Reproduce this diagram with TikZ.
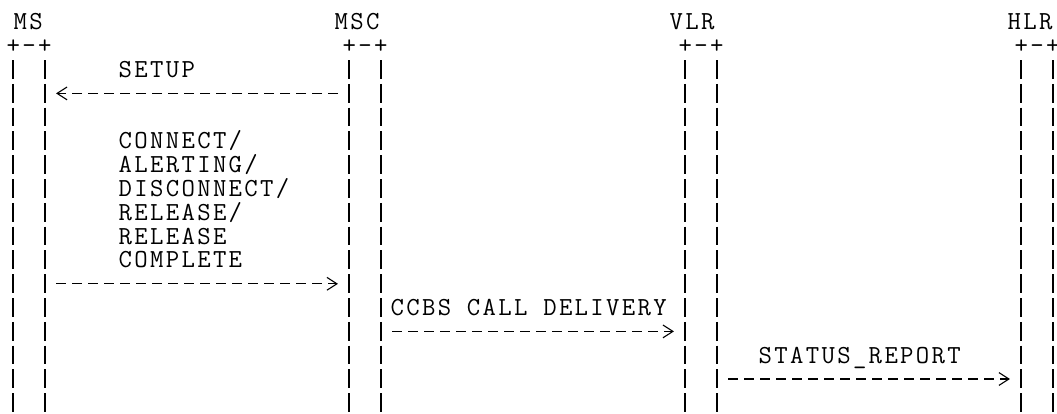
\documentclass[tikz,border=0pt]{standalone}
\usepackage{fontspec}
\newfontfamily\sigfont[LetterSpace=9.04]{Latin Modern Mono}
\usetikzlibrary{arrows.meta}
\tikzset{
  sig/.style={font=\sigfont\fontsize{13pt}{11.9pt}\selectfont, inner sep=0pt, anchor=base west, xshift=0.59pt},
  life/.style={line width=0.55pt, dash pattern=on 9.4pt off 2.5pt},
  msg/.style={line width=0.55pt, dash pattern=on 5pt off 3pt, -{Straight Barb[length=5pt,width=6.4pt]}}
}
\begin{document}
\begin{tikzpicture}[x=8pt, y=11.9pt, line cap=butt, line join=miter]
\useasboundingbox (-0.8125,0.924) rectangle (65.25,-16.47);
% participants
\node[sig] (ms)  at (-0.06,-0.334) {MS};
\node[sig] (msc) at (20,-0.334) {MSC};
\node[sig] (vlr) at (40.94,-0.334) {VLR};
\node[sig] (hlr) at (62.06,-0.334) {HLR};
% boxes and lifelines
\foreach \c/\n in {0/ms,21/msc,42/vlr,63/hlr}{
  \node[sig] (\n-box) at (\c-0.5,-1.334) {+-+};
  \draw[life] (\c,-1.6) -- (\c,-16.47);
  \draw[life] (\c+2,-1.6) -- (\c+2,-16.47);
}
% messages
\node[sig] (setup) at (6.5,-2.334) {SETUP};
\coordinate (setupA) at (20.3125,-3);
\coordinate (setupB) at (2.69,-3);
\draw[msg] (setupA) -- (setupB);
\foreach \t [count=\i from 5] in {CONNECT/,ALERTING/,DISCONNECT/,RELEASE/,RELEASE,COMPLETE}
  \node[sig] (rel\i) at (6.5,-\i-0.334) {\t};
\coordinate (relA) at (2.6875,-11);
\coordinate (relB) at (20.31,-11);
\draw[msg] (relA) -- (relB);
\node[sig] (ccbs) at (23.5,-12.334) {CCBS CALL DELIVERY};
\coordinate (ccbsA) at (23.6875,-13);
\coordinate (ccbsB) at (41.31,-13);
\draw[msg] (ccbsA) -- (ccbsB);
\node[sig] (stat) at (46.5,-14.334) {STATUS\_REPORT};
\coordinate (statA) at (44.6875,-15);
\coordinate (statB) at (62.31,-15);
\draw[msg] (statA) -- (statB);
\end{tikzpicture}
\end{document}
